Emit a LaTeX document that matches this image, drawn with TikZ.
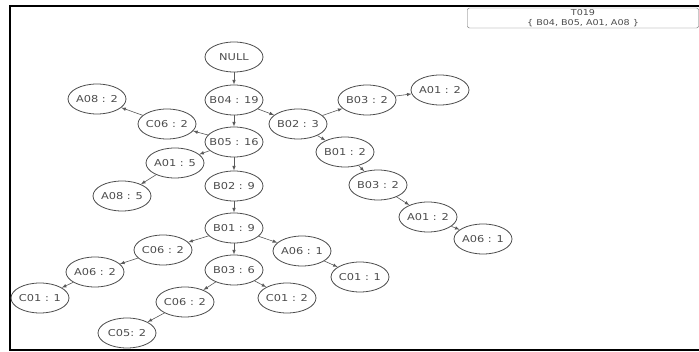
\documentclass[tikz,border=0pt]{standalone}
\usepackage{fontspec}
\usetikzlibrary{shapes.geometric}
\newfontfamily\treefont[FakeStretch=1.2]{DejaVu Sans}

\begin{document}
\begin{tikzpicture}[x=1pt, y=-1pt, >=latex,
    item/.style={ellipse, draw=black!70, thick, text=black!70,
        minimum width=58pt, minimum height=30pt, inner xsep=-12pt, inner ysep=0pt,
        font=\treefont\fontsize{9.5}{11}\selectfont},
    link/.style={->, draw=black!65, semithick},
    keybox/.style={draw=black!60, rounded corners=2pt, align=center, text=black!70,
        minimum width=231pt, minimum height=20pt, inner sep=0pt,
        font=\treefont\fontsize{8}{9.5}\selectfont}]
            \useasboundingbox (0,0) rectangle (699,352);

            % ==== FRAME ====
            \draw[line width=1.8pt] (699,6) -- (10,6) -- (10,350) -- (699,350);

            % ==== KEY ====
            \node[keybox] (key) at (583,18) {T019\\\{ B04, B05, A01, A08 \}};

            % ==== MAIN BRANCH ====
            \node[item] (null) at (234,57) {NULL};
            \node[item] (b04) at (234,100) {B04 : 19};
            \node[item] (b05) at (234,142) {B05 : 16};
            \node[item] (b02a) at (234,186) {B02 : 9};
            \node[item] (b01a) at (234,228) {B01 : 9};
            \node[item] (b03a) at (234,270) {B03 : 6};

            % ==== LEFT NODES ====
            \node[item] (c06a) at (167,124) {C06 : 2};
            \node[item] (a08a) at (97,99) {A08 : 2};
            \node[item] (a01a) at (175,163) {A01 : 5};
            \node[item] (a08b) at (122,196) {A08 : 5};
            \node[item] (c06b) at (163,250) {C06 : 2};
            \node[item] (a06a) at (95,272) {A06 : 2};
            \node[item] (c01a) at (40,298) {C01 : 1};
            \node[item] (c06c) at (185,302) {C06 : 2};
            \node[item] (c05) at (127,333) {C05: 2};
            \node[item] (c01b) at (287,298) {C01 : 2};
            \node[item] (a06b) at (302,251) {A06 : 1};
            \node[item] (c01c) at (360,277) {C01 : 1};

            % ==== RIGHT NODES ====
            \node[item] (b02b) at (298,124) {B02 : 3};
            \node[item] (b03b) at (367,100) {B03 : 2};
            \node[item] (a01b) at (440,90) {A01 : 2};
            \node[item] (b01b) at (345,152) {B01 : 2};
            \node[item] (b03c) at (378,185) {B03 : 2};
            \node[item] (a01c) at (428,217) {A01 : 2};
            \node[item] (a06c) at (483,239) {A06 : 1};

            % ==== LINKS ====
            \draw[link] (null) -- (b04);
            \draw[link] (b04) -- (b05);
            \draw[link] (b04) -- (b02b);
            \draw[link] (b05) -- (c06a);
            \draw[link] (c06a) -- (a08a);
            \draw[link] (b05) -- (a01a);
            \draw[link] (a01a) -- (a08b);
            \draw[link] (b05) -- (b02a);
            \draw[link] (b02a) -- (b01a);
            \draw[link] (b01a) -- (c06b);
            \draw[link] (c06b) -- (a06a);
            \draw[link] (a06a) -- (c01a);
            \draw[link] (b01a) -- (b03a);
            \draw[link] (b03a) -- (c06c);
            \draw[link] (c06c) -- (c05);
            \draw[link] (b03a) -- (c01b);
            \draw[link] (b01a) -- (a06b);
            \draw[link] (a06b) -- (c01c);
            \draw[link] (b02b) -- (b03b);
            \draw[link] (b03b) -- (a01b);
            \draw[link] (b02b) -- (b01b);
            \draw[link] (b01b) -- (b03c);
            \draw[link] (b03c) -- (a01c);
            \draw[link] (a01c) -- (a06c);

        \end{tikzpicture}
\end{document}
